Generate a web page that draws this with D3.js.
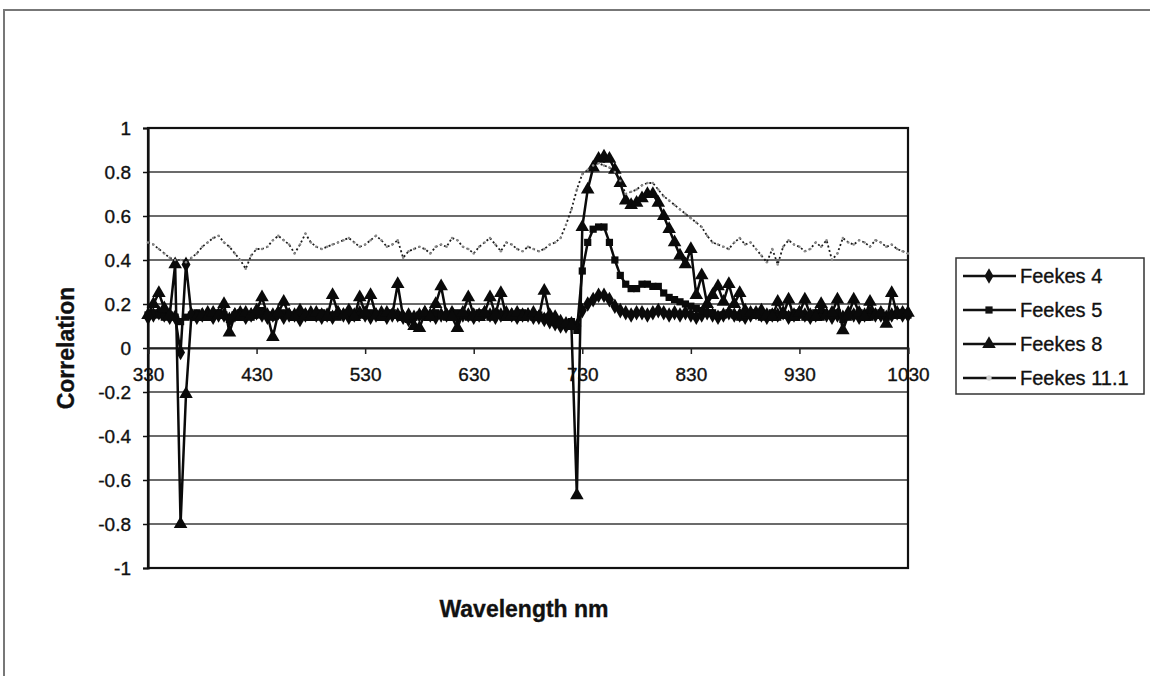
<!DOCTYPE html>
<html>
<head>
<meta charset="utf-8">
<script src="https://cdn.jsdelivr.net/npm/d3@7"></script>
<style>
  body { margin: 0; background: #fff; }
  svg { display: block; font-family: "Liberation Sans", Arial, sans-serif; }
  text { stroke: #111; stroke-width: 0.35px; }
</style>
</head>
<body>
<div id="chart"></div>
<script>
// Wavelength (nm) categories
var wavelengths = [
  330, 335, 340, 345, 350, 355, 360, 365, 370, 375,
  380, 385, 390, 395, 400, 405, 410, 415, 420, 425,
  430, 435, 440, 445, 450, 455, 460, 465, 470, 475,
  480, 485, 490, 495, 500, 505, 510, 515, 520, 525,
  530, 535, 540, 545, 550, 555, 560, 565, 570, 575,
  580, 585, 590, 595, 600, 605, 610, 615, 620, 625,
  630, 635, 640, 645, 650, 655, 660, 665, 670, 675,
  680, 685, 690, 695, 700, 705, 710, 715, 720, 725,
  730, 735, 740, 745, 750, 755, 760, 765, 770, 775,
  780, 785, 790, 795, 800, 805, 810, 815, 820, 825,
  830, 835, 840, 845, 850, 855, 860, 865, 870, 875,
  880, 885, 890, 895, 900, 905, 910, 915, 920, 925,
  930, 935, 940, 945, 950, 955, 960, 965, 970, 975,
  980, 985, 990, 995, 1000, 1005, 1010, 1015, 1020, 1025,
  1030
]

var feekes4 = [
  0.14, 0.15, 0.16, 0.15, 0.14, 0.14, -0.02, 0.38, 0.15, 0.14,
  0.15, 0.16, 0.14, 0.15, 0.15, 0.13, 0.15, 0.16, 0.14, 0.15,
  0.16, 0.15, 0.14, 0.15, 0.16, 0.14, 0.15, 0.15, 0.13, 0.15,
  0.16, 0.15, 0.14, 0.15, 0.14, 0.16, 0.15, 0.14, 0.15, 0.16,
  0.15, 0.14, 0.15, 0.16, 0.14, 0.15, 0.15, 0.14, 0.13, 0.14,
  0.15, 0.16, 0.15, 0.14, 0.15, 0.15, 0.16, 0.14, 0.15, 0.15,
  0.14, 0.15, 0.16, 0.15, 0.14, 0.15, 0.16, 0.15, 0.14, 0.15,
  0.15, 0.14, 0.14, 0.13, 0.12, 0.11, 0.10, 0.10, 0.11, 0.10,
  0.17, 0.20, 0.22, 0.24, 0.24, 0.22, 0.19, 0.17, 0.16, 0.15,
  0.16, 0.16, 0.15, 0.16, 0.17, 0.16, 0.15, 0.16, 0.15, 0.16,
  0.15, 0.14, 0.15, 0.16, 0.15, 0.14, 0.15, 0.16, 0.15, 0.15,
  0.14, 0.15, 0.16, 0.15, 0.14, 0.15, 0.15, 0.16, 0.14, 0.15,
  0.16, 0.15, 0.14, 0.15, 0.16, 0.15, 0.14, 0.15, 0.14, 0.16,
  0.15, 0.14, 0.15, 0.16, 0.15, 0.15, 0.14, 0.15, 0.16, 0.15,
  0.15
]

var feekes5 = [
  0.15, 0.16, 0.15, 0.14, 0.15, 0.14, 0.12, 0.14, 0.15, 0.16,
  0.15, 0.14, 0.15, 0.16, 0.15, 0.13, 0.15, 0.16, 0.15, 0.14,
  0.15, 0.17, 0.15, 0.14, 0.15, 0.16, 0.15, 0.14, 0.16, 0.15,
  0.15, 0.14, 0.16, 0.15, 0.15, 0.14, 0.15, 0.16, 0.14, 0.15,
  0.15, 0.16, 0.15, 0.14, 0.15, 0.16, 0.15, 0.14, 0.13, 0.14,
  0.15, 0.14, 0.15, 0.16, 0.15, 0.14, 0.15, 0.16, 0.15, 0.14,
  0.15, 0.16, 0.15, 0.14, 0.16, 0.15, 0.15, 0.14, 0.15, 0.16,
  0.15, 0.14, 0.15, 0.14, 0.13, 0.12, 0.11, 0.11, 0.12, 0.08,
  0.35, 0.48, 0.54, 0.55, 0.55, 0.48, 0.40, 0.33, 0.29, 0.27,
  0.27, 0.29, 0.29, 0.28, 0.28, 0.25, 0.23, 0.22, 0.21, 0.20,
  0.19, 0.18, 0.17, 0.16, 0.16, 0.15, 0.15, 0.16, 0.15, 0.14,
  0.15, 0.16, 0.15, 0.14, 0.15, 0.16, 0.14, 0.15, 0.15, 0.16,
  0.15, 0.14, 0.15, 0.16, 0.14, 0.15, 0.15, 0.16, 0.13, 0.14,
  0.15, 0.16, 0.15, 0.14, 0.15, 0.16, 0.14, 0.15, 0.15, 0.16,
  0.15
]

var feekes8 = [
  0.15, 0.20, 0.25, 0.18, 0.15, 0.38, -0.80, -0.21, 0.15, 0.14,
  0.15, 0.14, 0.16, 0.15, 0.20, 0.07, 0.15, 0.14, 0.16, 0.15,
  0.17, 0.23, 0.15, 0.05, 0.16, 0.21, 0.15, 0.14, 0.17, 0.15,
  0.14, 0.16, 0.15, 0.14, 0.24, 0.16, 0.15, 0.17, 0.14, 0.23,
  0.16, 0.24, 0.15, 0.14, 0.16, 0.15, 0.29, 0.14, 0.15, 0.10,
  0.09, 0.16, 0.14, 0.20, 0.28, 0.15, 0.14, 0.09, 0.16, 0.23,
  0.15, 0.14, 0.16, 0.23, 0.15, 0.25, 0.14, 0.15, 0.16, 0.14,
  0.15, 0.16, 0.14, 0.26, 0.15, 0.14, 0.12, 0.11, 0.10, -0.67,
  0.55, 0.72, 0.82, 0.86, 0.87, 0.86, 0.81, 0.75, 0.67, 0.65,
  0.66, 0.68, 0.70, 0.70, 0.66, 0.60, 0.54, 0.48, 0.42, 0.38,
  0.45, 0.24, 0.33, 0.20, 0.24, 0.28, 0.21, 0.29, 0.20, 0.25,
  0.17, 0.16, 0.15, 0.17, 0.15, 0.14, 0.21, 0.15, 0.22, 0.14,
  0.16, 0.22, 0.15, 0.14, 0.20, 0.15, 0.16, 0.22, 0.08, 0.15,
  0.22, 0.16, 0.14, 0.21, 0.15, 0.16, 0.11, 0.25, 0.15, 0.16,
  0.16
]

var feekes111 = [
  0.48, 0.47, 0.45, 0.43, 0.41, 0.40, 0.40, 0.39, 0.41, 0.43,
  0.46, 0.48, 0.50, 0.51, 0.48, 0.46, 0.43, 0.40, 0.36, 0.42,
  0.45, 0.45, 0.46, 0.49, 0.51, 0.49, 0.47, 0.43, 0.47, 0.52,
  0.48, 0.46, 0.45, 0.46, 0.47, 0.48, 0.49, 0.50, 0.48, 0.46,
  0.47, 0.49, 0.51, 0.49, 0.46, 0.47, 0.49, 0.41, 0.44, 0.45,
  0.46, 0.45, 0.43, 0.46, 0.47, 0.46, 0.50, 0.49, 0.46, 0.45,
  0.43, 0.46, 0.48, 0.50, 0.47, 0.44, 0.48, 0.47, 0.45, 0.44,
  0.46, 0.45, 0.44, 0.45, 0.47, 0.48, 0.50, 0.56, 0.63, 0.72,
  0.79, 0.81, 0.83, 0.84, 0.83, 0.82, 0.80, 0.76, 0.70, 0.71,
  0.72, 0.74, 0.75, 0.75, 0.72, 0.69, 0.67, 0.65, 0.63, 0.61,
  0.59, 0.57, 0.55, 0.51, 0.48, 0.47, 0.46, 0.45, 0.48, 0.50,
  0.47, 0.48, 0.45, 0.42, 0.39, 0.45, 0.38, 0.46, 0.49, 0.47,
  0.46, 0.44, 0.45, 0.48, 0.46, 0.49, 0.40, 0.43, 0.50, 0.48,
  0.47, 0.49, 0.48, 0.46, 0.49, 0.48, 0.46, 0.47, 0.45, 0.44,
  0.43
]

var seriesNames = ['Feekes 4', 'Feekes 5', 'Feekes 8', 'Feekes 11.1']
var xTicks = [330, 430, 530, 630, 730, 830, 930, 1030]
var yTicks = [-1, -0.8, -0.6, -0.4, -0.2, 0, 0.2, 0.4, 0.6, 0.8, 1]

var series = [
  { name: seriesNames[0], values: feekes4, symbol: d3.symbolDiamond, size: 70 },
  { name: seriesNames[1], values: feekes5, symbol: d3.symbolSquare, size: 52 },
  { name: seriesNames[2], values: feekes8, symbol: d3.symbolTriangle, size: 80 },
  { name: seriesNames[3], values: feekes111, symbol: d3.symbolCircle, size: 5 }
]

// Dimensions
var width = 1150
var height = 676
var plot = { left: 148, right: 908, top: 128, bottom: 568 }

var svg = d3.select('#chart').append('svg')
  .attr('width', width)
  .attr('height', height)

// outer frame of the scanned chart
svg.append('path')
  .attr('d', 'M4,' + height + 'V10H' + width)
  .attr('fill', 'none')
  .attr('stroke', '#777')
  .attr('stroke-width', 2)

var x = d3.scaleLinear().domain([330, 1030]).range([plot.left, plot.right])
var y = d3.scaleLinear().domain([-1, 1]).range([plot.bottom, plot.top])

var plain = function (d) { return String(+d.toFixed(1)) }

// gridlines
svg.append('g')
  .selectAll('line')
  .data(yTicks)
  .enter().append('line')
    .attr('x1', plot.left)
    .attr('x2', plot.right)
    .attr('y1', function (d) { return y(d) })
    .attr('y2', function (d) { return y(d) })
    .attr('stroke', '#3a3a3a')
    .attr('stroke-width', 1.6)

// plot border
svg.append('rect')
  .attr('x', plot.left)
  .attr('y', plot.top)
  .attr('width', plot.right - plot.left)
  .attr('height', plot.bottom - plot.top)
  .attr('fill', 'none')
  .attr('stroke', '#111')
  .attr('stroke-width', 2.2)

// y axis
var yAxis = svg.append('g')
  .attr('transform', 'translate(' + plot.left + ',0)')
  .call(d3.axisLeft(y).tickValues(yTicks).tickSize(5).tickPadding(12).tickFormat(plain))
yAxis.select('.domain').attr('stroke', '#111').attr('stroke-width', 2.2)
yAxis.selectAll('.tick line').attr('stroke', '#111').attr('stroke-width', 1.5)
yAxis.selectAll('text')
  .attr('fill', '#111')
  .style('font-size', '19px')

// x axis sits on zero
var xAxis = svg.append('g')
  .attr('transform', 'translate(0,' + y(0) + ')')
  .call(d3.axisBottom(x).tickValues(xTicks).tickSize(6).tickPadding(14).tickFormat(plain))
xAxis.select('.domain').attr('stroke', '#222').attr('stroke-width', 2)
xAxis.selectAll('.tick line').attr('stroke', '#222').attr('stroke-width', 1.5)
xAxis.selectAll('text')
  .attr('fill', '#111')
  .style('font-size', '19px')

// series
var line = d3.line()
  .x(function (d, i) { return x(wavelengths[i]) })
  .y(function (d) { return y(d) })

series.forEach(function (s, k) {
  var g = svg.append('g').attr('class', 'series')
  var dotted = k === 3
  g.append('path')
    .datum(s.values)
    .attr('d', line)
    .attr('fill', 'none')
    .attr('stroke', dotted ? '#1a1a1a' : '#0a0a0a')
    .attr('stroke-width', dotted ? 1.8 : 2.5)
    .attr('stroke-dasharray', dotted ? '2,2.5' : null)
    .attr('stroke-linejoin', 'round')

  g.selectAll('path.mark')
    .data(s.values)
    .enter().append('path')
      .attr('class', 'mark')
      .attr('d', d3.symbol().type(s.symbol).size(s.size))
      .attr('transform', function (d, i) { return 'translate(' + x(wavelengths[i]) + ',' + y(d) + ')' })
      .attr('fill', dotted ? '#8a8a8a' : '#0a0a0a')
})

// axis titles
svg.append('text')
  .attr('transform', 'translate(74,' + y(0) + ') rotate(-90)')
  .attr('text-anchor', 'middle')
  .style('font-size', '23px')
  .style('font-weight', 'bold')
  .attr('fill', '#111')
  .text('Correlation')

svg.append('text')
  .attr('x', (plot.left + plot.right) / 2 - 4)
  .attr('y', 617)
  .attr('text-anchor', 'middle')
  .style('font-size', '23px')
  .style('font-weight', 'bold')
  .attr('fill', '#111')
  .text('Wavelength nm')

// legend
var legend = svg.append('g').attr('transform', 'translate(956,258)')
legend.append('rect')
  .attr('width', 188)
  .attr('height', 136)
  .attr('fill', '#fff')
  .attr('stroke', '#333')
  .attr('stroke-width', 1.5)

series.forEach(function (s, k) {
  var ly = 18 + k * 34
  var item = legend.append('g').attr('transform', 'translate(0,' + ly + ')')
  item.append('line')
    .attr('x1', 7)
    .attr('x2', 60)
    .attr('stroke', '#111')
    .attr('stroke-width', 2.4)
  item.append('path')
    .attr('transform', 'translate(33,0)')
    .attr('d', d3.symbol().type(s.symbol).size(k === 3 ? 22 : s.size))
    .attr('fill', k === 3 ? '#d4d4d4' : '#111')
  item.append('text')
    .attr('x', 64)
    .attr('dy', '0.35em')
    .style('font-size', '20px')
    .attr('fill', '#111')
    .text(s.name)
})
</script>
</body>
</html>
